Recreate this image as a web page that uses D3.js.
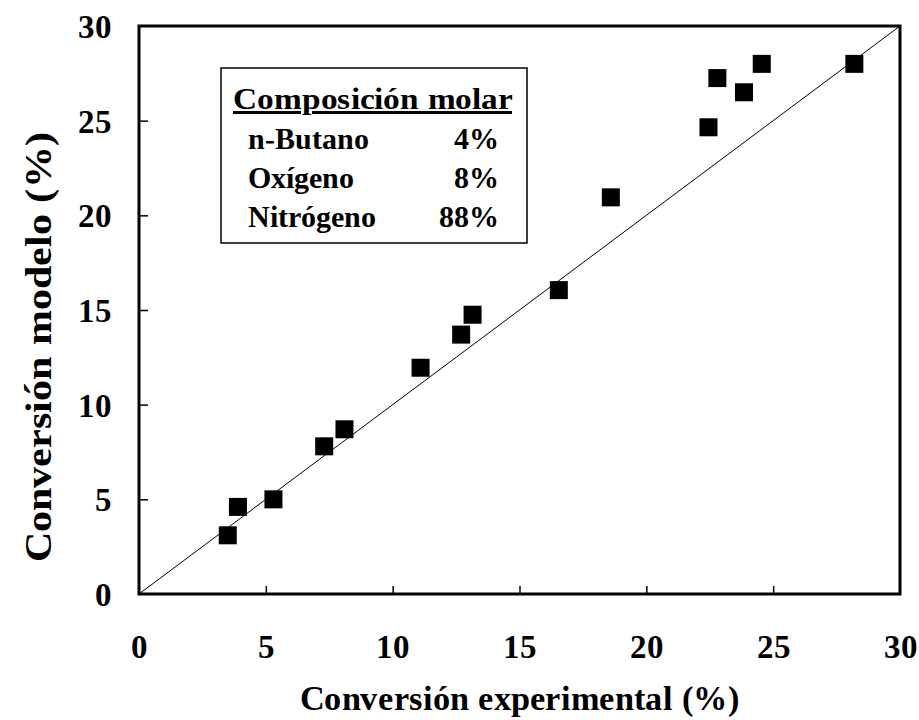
<!DOCTYPE html>
<html>
<head>
<meta charset="utf-8">
<style>
@font-face { font-family: "RefSerif"; src: local("Liberation Serif Bold"), local("LiberationSerif-Bold"); font-weight: bold; }
</style>
<script src="https://cdn.jsdelivr.net/npm/d3@7"></script>
</head>
<body style="margin:0">
<script>
// experimental vs model conversion (%)
var expConv = [3.5, 3.9, 5.3, 7.3, 8.1, 11.1, 12.7, 13.15, 16.55, 18.6, 22.45, 22.8, 23.85, 24.55, 28.2];
var modConv = [3.1, 4.6, 5.0, 7.8, 8.7, 11.95, 13.7, 14.75, 16.05, 20.95, 24.65, 27.25, 26.5, 28.0, 28.0];
var tickVals = [0, 5, 10, 15, 20, 25, 30];
var gases = ["n-Butano", "Oxígeno", "Nitrógeno"];
var fractions = ["4%", "8%", "88%"];

var width = 919, height = 720;
var margin = {top: 26, right: 19, bottom: 126, left: 139};
var fam = "RefSerif, 'Liberation Serif'";

var svg = d3.select("body").append("svg")
    .attr("width", width)
    .attr("height", height)
    .attr("font-family", fam)
    .attr("font-weight", "bold");

function serifText(sel, size) {
  return sel.attr("font-family", fam)
    .attr("font-weight", "bold")
    .attr("font-size", size)
    .style("font-family", fam)
    .style("font-weight", "bold")
    .style("font-size", size + "px");
}

var x = d3.scaleLinear().domain([0, 30]).range([margin.left, width - margin.right]);
var y = d3.scaleLinear().domain([0, 30]).range([height - margin.bottom, margin.top]);

// ticks drawn inward
var xAxis = d3.axisBottom(x).tickValues(tickVals).tickSizeInner(-8).tickSizeOuter(0).tickPadding(41);
var yAxis = d3.axisLeft(y).tickValues(tickVals).tickSizeInner(-9).tickSizeOuter(0).tickPadding(27);

var gx = svg.append("g")
  .attr("transform", "translate(0," + y(0) + ")")
  .call(xAxis);
var gy = svg.append("g")
  .attr("transform", "translate(" + x(0) + ",0)")
  .call(yAxis);

[gx, gy].forEach(function(g) {
  g.attr("font-family", fam);
  g.select(".domain").remove();
  g.selectAll(".tick line").attr("stroke", "#000").attr("stroke-width", 1.5);
  serifText(g.selectAll(".tick text"), 33).attr("fill", "#000");
});
gx.selectAll(".tick line").filter(function(d) { return d == 0 || d == 30; }).remove();
gy.selectAll(".tick line").filter(function(d) { return d == 0 || d == 30; }).remove();
gy.selectAll(".tick text").attr("dy", "0.35em");

// frame
svg.append("rect")
  .attr("x", x(0))
  .attr("y", y(30))
  .attr("width", x(30) - x(0))
  .attr("height", y(0) - y(30))
  .attr("fill", "none")
  .attr("stroke", "#000")
  .attr("stroke-width", 3);

// 1:1 line
svg.append("line")
  .attr("x1", x(0)).attr("y1", y(0))
  .attr("x2", x(30)).attr("y2", y(30))
  .attr("stroke", "#000")
  .attr("stroke-width", 1);

var sq = 18;
svg.selectAll("rect.pt").data(expConv)
  .enter().append("rect")
  .attr("class", "pt")
  .attr("x", function(d) { return x(d) - sq / 2; })
  .attr("y", function(d, i) { return y(modConv[i]) - sq / 2; })
  .attr("width", sq)
  .attr("height", sq)
  .attr("fill", "#000");

// legend box
var lg = svg.append("g");
lg.append("rect")
  .attr("x", 221).attr("y", 68)
  .attr("width", 306).attr("height", 175)
  .attr("fill", "#fff")
  .attr("stroke", "#000")
  .attr("stroke-width", 1.5);

serifText(lg.append("text"), 30)
  .attr("x", 233).attr("y", 109)
  .attr("textLength", 279)
  .attr("lengthAdjust", "spacingAndGlyphs")
  .style("text-decoration", "underline")
  .text("Composición molar");

serifText(lg.selectAll("text.gas").data(gases).enter().append("text"), 30)
  .attr("class", "gas")
  .attr("x", 248)
  .attr("y", function(d, i) { return 149 + i * 39; })
  .text(function(d) { return d; });

serifText(lg.selectAll("text.frac").data(fractions).enter().append("text"), 30)
  .attr("class", "frac")
  .attr("x", 499)
  .attr("y", function(d, i) { return 149 + i * 39; })
  .attr("text-anchor", "end")
  .text(function(d) { return d; });

// axis titles
serifText(svg.append("text"), 35)
  .attr("x", (x(0) + x(30)) / 2)
  .attr("y", 710)
  .attr("text-anchor", "middle")
  .attr("textLength", 440)
  .attr("lengthAdjust", "spacingAndGlyphs")
  .text("Conversión experimental (%)");

serifText(svg.append("text"), 38)
  .attr("transform", "rotate(-90)")
  .attr("x", -347)
  .attr("y", 51)
  .attr("text-anchor", "middle")
  .attr("textLength", 430)
  .attr("lengthAdjust", "spacingAndGlyphs")
  .text("Conversión modelo (%)");
</script>
</body>
</html>
